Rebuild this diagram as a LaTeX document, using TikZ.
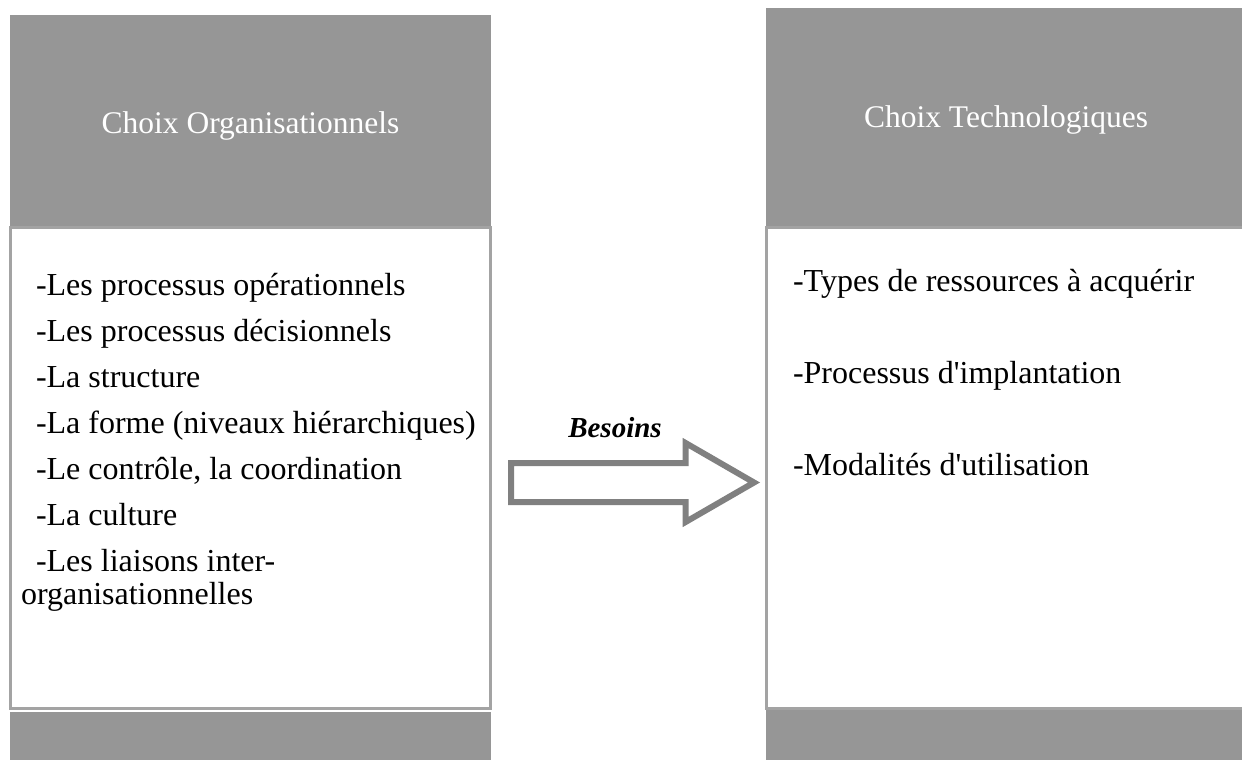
\documentclass[tikz,border=0pt]{standalone}
\usepackage{fontspec}
\setmainfont{Liberation Serif}
\usetikzlibrary{shapes.arrows}
\definecolor{headgray}{RGB}{150,150,150}
\definecolor{boxline}{RGB}{163,163,163}
\definecolor{arrowgray}{RGB}{128,128,128}
\begin{document}
\begin{tikzpicture}
	[x=1pt,y=-1pt,
	every node/.style={inner sep=0pt,outer sep=0pt},
	listbox/.style={draw=boxline,line width=3,fill=white,anchor=north west},
	headbox/.style={fill=headgray,anchor=north west},
	titletext/.style={anchor=base,text=white,font=\fontsize{31.5}{38}\selectfont},
	item/.style={anchor=base west,font=\fontsize{32}{38}\selectfont},
	needarrow/.style={single arrow,draw=arrowgray,fill=white,line width=6,
		inner xsep=0pt,inner ysep=16.5pt,minimum height=243,
		single arrow head extend=20pt,single arrow tip angle=60,anchor=tail}]
	\useasboundingbox (0,0) rectangle (1242,760);
	\clip (0,0) rectangle (1242,760);
	\def\lx{36}\def\rx{793}
	\node[listbox,minimum width=480,minimum height=481]   (orgbox)   at (10.5,227.5) {};
	\node[listbox,minimum width=500,minimum height=481.5] (techbox)  at (766.5,227)  {};
	\node[headbox,minimum width=481,minimum height=211]   (orghead)  at (10,15)      {};
	\node[headbox,minimum width=490,minimum height=218]   (techhead) at (766,8)      {};
	\node[headbox,minimum width=481,minimum height=48]    (orgfoot)  at (10,712)     {};
	\node[headbox,minimum width=490,minimum height=50]    (techfoot) at (766,710)    {};
	\node[titletext] (orgtitle)  at (250.5,133) {Choix Organisationnels};
	\node[titletext] (techtitle) at (1006,127)  {Choix Technologiques};
	\node[item] (org1) at (\lx,295) {-Les processus opérationnels};
	\node[item] (org2) at (\lx,341) {-Les processus décisionnels};
	\node[item] (org3) at (\lx,387) {-La structure};
	\node[item] (org4) at (\lx,433) {-La forme (niveaux hiérarchiques)};
	\node[item] (org5) at (\lx,479) {-Le contrôle, la coordination};
	\node[item] (org6) at (\lx,525) {-La culture};
	\node[item] (org7) at (\lx,571) {-Les liaisons inter-};
	\node[item] (org8) at (21,604)  {organisationnelles};
	\node[item] (tech1) at (\rx,291) {-Types de ressources à acquérir};
	\node[item] (tech2) at (\rx,383) {-Processus d\textquotesingle implantation};
	\node[item] (tech3) at (\rx,475) {-Modalités d\textquotesingle utilisation};
	\node[needarrow] (need) at (511,482.5) {};
	\node[anchor=base,font=\fontsize{29}{34}\selectfont\bfseries\itshape] (besoins) at (615,437) {Besoins};
\end{tikzpicture}
\end{document}
